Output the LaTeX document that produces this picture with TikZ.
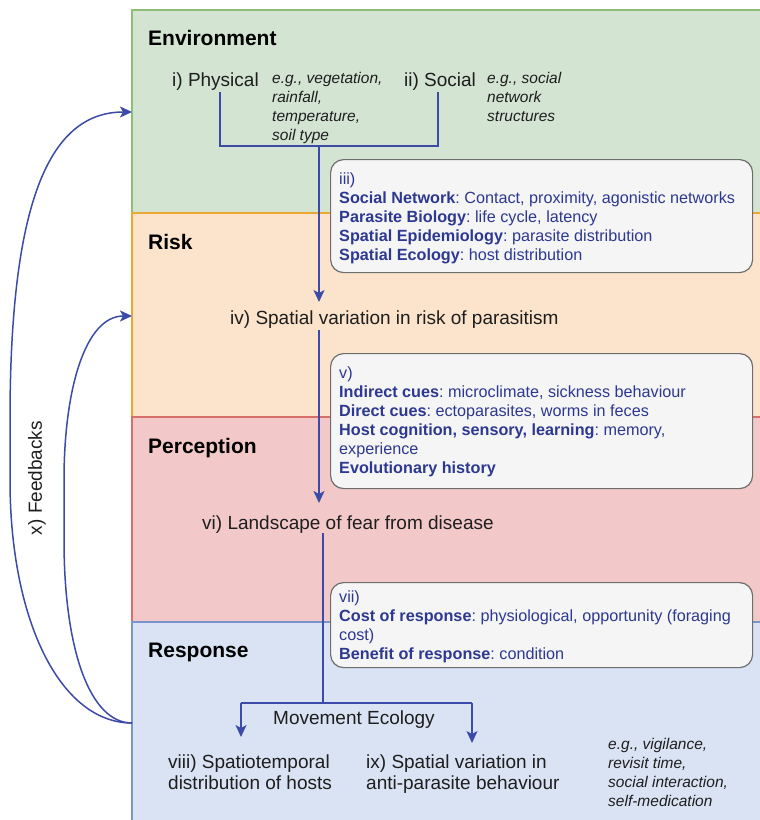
\documentclass[tikz,border=0pt]{standalone}
\usepackage{fontspec}
\setmainfont{Liberation Sans}
\usetikzlibrary{arrows.meta}
\frenchspacing
\definecolor{envfill}{RGB}{211,228,210}
\definecolor{envline}{RGB}{140,190,120}
\definecolor{riskfill}{RGB}{252,228,204}
\definecolor{riskline}{RGB}{236,168,50}
\definecolor{percfill}{RGB}{242,201,200}
\definecolor{percline}{RGB}{215,110,105}
\definecolor{respfill}{RGB}{217,227,243}
\definecolor{respline}{RGB}{120,150,205}
\definecolor{arrowblue}{RGB}{60,74,168}
\definecolor{boxtext}{RGB}{45,56,145}
\definecolor{boxfill}{RGB}{245,245,245}
\definecolor{boxline}{RGB}{110,110,110}
\definecolor{maintext}{RGB}{30,30,30}
\newcommand{\fsz}[2]{\fontsize{#1}{#2}\selectfont}
\begin{document}
\begin{tikzpicture}[x=1pt,y=-1pt,
  band/.style={line width=1.2pt},
  header/.style={anchor=base west, inner sep=0pt, font=\fsz{21}{25}\bfseries, text=black},
  maintxt/.style={anchor=base west, inner sep=0pt, font=\fsz{19}{21}, text=maintext},
  twoline/.style={anchor=north west, inner sep=0pt, align=left, font=\fsz{19}{21}, text=maintext},
  egtxt/.style={anchor=north west, inner sep=0pt, align=left, font=\fsz{15.5}{19}\itshape, text=maintext},
  infobox/.style={draw=boxline, fill=boxfill, rounded corners=13pt, line width=1.2pt, anchor=north west, inner sep=0pt},
  infotxt/.style={anchor=north west, inner sep=0pt, align=left, font=\fsz{16.2}{19}\frenchspacing, text=boxtext},
  conn/.style={draw=arrowblue, line width=1.5pt},
  tip/.style={-{Stealth[length=12pt,width=11pt,inset=3pt]}}
]
\useasboundingbox (0,0) rectangle (760,820);
\clip (0,0) rectangle (760,820);

% bands
\draw[band, fill=envfill, draw=envline] (132,10) rectangle (775,213);
\draw[band, fill=riskfill, draw=riskline] (132,213) rectangle (775,417);
\draw[band, fill=percfill, draw=percline] (132,417) rectangle (775,622);
\draw[band, fill=respfill, draw=respline] (132,622) rectangle (775,835);

% headers
\node[header] (henv) at (148,45) {Environment};
\node[header] (hrisk) at (148,249.5) {Risk};
\node[header] (hperc) at (148,453.5) {Perception};
\node[header] (hresp) at (148,657.5) {Response};

% environment content
\node[maintxt] (phys) at (172,86) {i) Physical};
\node[egtxt] (physeg) at (272,71.8) {e.g., vegetation,\\rainfall,\\temperature,\\soil type};
\node[maintxt] (soc) at (404,86) {ii) Social};
\node[egtxt] (soceg) at (487,71.7) {e.g., social\\network\\structures};

% info boxes
\node[infobox, minimum width=422pt, minimum height=113pt] (boxiii) at (330,159) {};
\node[infotxt] (txtiii) at (339,172.4) {iii)\\
\textbf{Social Network}: Contact, proximity, agonistic networks\\
\textbf{Parasite Biology}: life cycle, latency\\
\textbf{Spatial Epidemiology}: parasite distribution\\
\textbf{Spatial Ecology}: host distribution};

\node[maintxt] (iv) at (230,324) {iv) Spatial variation in risk of parasitism};

\node[infobox, minimum width=422pt, minimum height=135pt] (boxv) at (330,353) {};
\node[infotxt] (txtv) at (339,366.4) {v)\\
\textbf{Indirect cues}: microclimate, sickness behaviour\\
\textbf{Direct cues}: ectoparasites, worms in feces\\
\textbf{Host cognition, sensory, learning}: memory,\\
experience\\
\textbf{Evolutionary history}};

\node[maintxt] (vi) at (202,529) {vi) Landscape of fear from disease};

\node[infobox, minimum width=422pt, minimum height=85pt] (boxvii) at (330,582) {};
\node[infotxt] (txtvii) at (339,590.4) {vii)\\
\textbf{Cost of response}: physiological, opportunity (foraging\\
cost)\\
\textbf{Benefit of response}: condition};

\node[maintxt] (move) at (273,724) {Movement Ecology};
\node[twoline] (viii) at (168,754.5) {viii) Spatiotemporal\\distribution of hosts};
\node[twoline] (ix) at (366,754.5) {ix) Spatial variation in\\anti-parasite behaviour};
\node[egtxt] (respeg) at (608,737.7) {e.g., vigilance,\\revisit time,\\social interaction,\\self-medication};

\node[maintxt, anchor=center, rotate=90] (fb) at (37,478) {x) Feedbacks};

% connector coordinates
\coordinate (physdrop) at (220,92);
\coordinate (physcorner) at (220,146);
\coordinate (socdrop) at (438,92);
\coordinate (soccorner) at (438,146);
\coordinate (envjoin) at (319,146);
\coordinate (ivtop) at (319,302);
\coordinate (ivbot) at (319,330);
\coordinate (vitop) at (319,503);
\coordinate (vibot) at (323,533);
\coordinate (split) at (323,703);
\coordinate (splitl) at (241,703);
\coordinate (splitr) at (472,703);
\coordinate (viiitop) at (241,737);
\coordinate (ixtop) at (472,743);
\coordinate (fbstart) at (132,723);
\coordinate (envin) at (132,112);
\coordinate (riskin) at (132,316);

% connectors
\draw[conn] (physdrop) -- (physcorner) -- (soccorner) -- (socdrop);
\draw[conn, tip] (envjoin) -- (ivtop);
\draw[conn, tip] (ivbot) -- (vitop);
\draw[conn] (vibot) -- (split);
\draw[conn] (splitl) -- (splitr);
\draw[conn, tip] (splitl) -- (viiitop);
\draw[conn, tip] (splitr) -- (ixtop);

% feedbacks
\draw[conn, tip] (fbstart) .. controls (60,723) and (10,620) .. (10,480) -- (10,420) .. controls (10,200) and (50,112) .. (envin);
\draw[conn, tip] (fbstart) .. controls (90,723) and (64,650) .. (64,540) -- (64,480) .. controls (64,390) and (85,316) .. (riskin);
\end{tikzpicture}
\end{document}
